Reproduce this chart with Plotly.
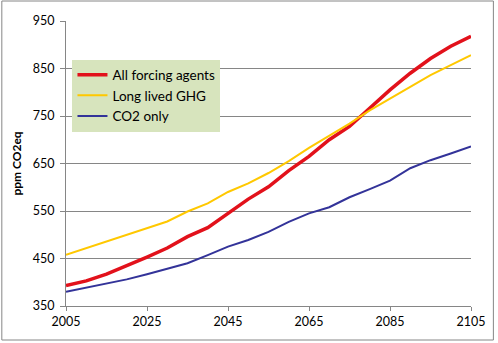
import plotly.graph_objects as go

# Projected CO2-equivalent concentrations, 5-year steps
years = [2005, 2010, 2015, 2020, 2025, 2030, 2035, 2040, 2045, 2050, 2055,
         2060, 2065, 2070, 2075, 2080, 2085, 2090, 2095, 2100, 2105]
all_forcing = [393, 403, 417, 434, 453, 472, 496, 515, 546, 575, 601,
               635, 665, 700, 728, 767, 805, 840, 871, 897, 918]
long_lived_ghg = [458, 472, 486, 500, 514, 528, 549, 566, 590, 608, 630,
                  655, 683, 708, 734, 762, 787, 812, 836, 857, 878]
co2_only = [380, 389, 397, 406, 417, 428, 440, 457, 475, 489, 506,
            527, 545, 558, 579, 596, 614, 640, 657, 671, 686]

series_names = ["All forcing agents", "Long lived GHG", "CO2 only"]
x_ticks = [2005, 2025, 2045, 2065, 2085, 2105]
y_ticks = [350, 450, 550, 650, 750, 850, 950]

FONT = "Lato"
GRID = "#868686"

fig = go.Figure()
fig.add_trace(go.Scatter(x=years, y=all_forcing, mode="lines", name=series_names[0],
                         line=dict(color="#e2111b", width=3.5)))
fig.add_trace(go.Scatter(x=years, y=long_lived_ghg, mode="lines", name=series_names[1],
                         line=dict(color="#ffc800", width=2)))
fig.add_trace(go.Scatter(x=years, y=co2_only, mode="lines", name=series_names[2],
                         line=dict(color="#333399", width=2)))

W, H = 498, 343
ML, MR, MT, MB = 66, 25, 21, 37
pw, ph = W - ML - MR, H - MT - MB


def px_to_paper(x, y):
    return (x - ML) / pw, (H - MB - y) / ph


x0, y0 = px_to_paper(1.5, 340)
x1, y1 = px_to_paper(495.5, 1)
lx, ly = px_to_paper(72.5, 59.5)

fig.update_layout(
    width=W, height=H,
    margin=dict(l=ML, r=MR, t=MT, b=MB),
    paper_bgcolor="white", plot_bgcolor="white",
    font=dict(family=FONT, size=12, color="black"),
    showlegend=True,
    legend=dict(x=lx, y=ly, xanchor="left", yanchor="top",
                bgcolor="#d7e4bd", borderwidth=0,
                font=dict(family=FONT, size=13.5, color="black"),
                itemwidth=30, tracegroupgap=0),
    xaxis=dict(range=[2005, 2105], tickvals=x_ticks, ticks="outside", ticklen=4,
               tickcolor=GRID, showline=True, linecolor=GRID, linewidth=1,
               showgrid=False, zeroline=False, tickfont=dict(size=12.5)),
    yaxis=dict(range=[350, 950], tickvals=y_ticks, ticks="outside", ticklen=5,
               tickcolor=GRID, showline=True, linecolor=GRID, linewidth=1,
               showgrid=True, gridcolor=GRID, gridwidth=1, zeroline=False,
               tickfont=dict(size=12.5), ticklabelstandoff=3,
               title=dict(text="<b>ppm CO2eq</b>", font=dict(size=12), standoff=8)),
    shapes=[dict(type="rect", xref="paper", yref="paper", x0=x0, y0=y0, x1=x1, y1=y1,
                 line=dict(color=GRID, width=1), fillcolor="rgba(0,0,0,0)", layer="below")],
)

fig.write_html("out.html")
